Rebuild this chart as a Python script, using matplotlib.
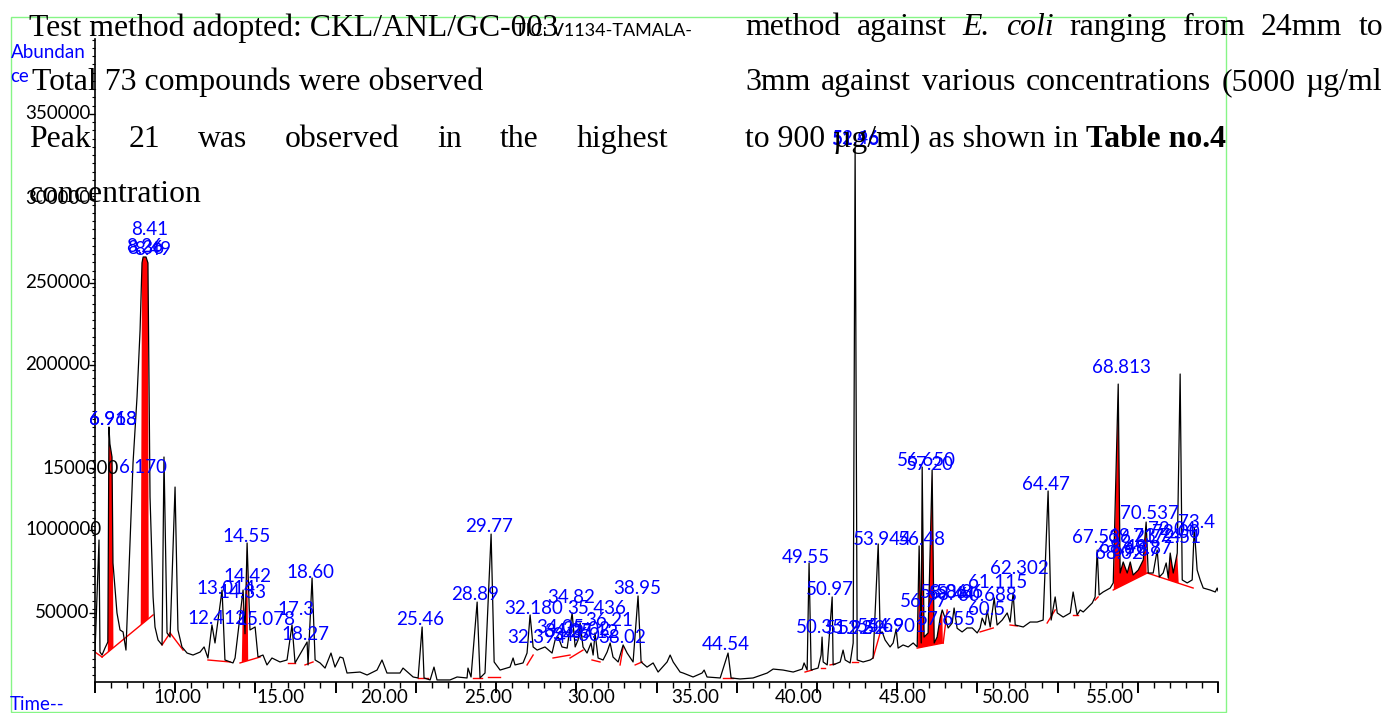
import numpy as np
import matplotlib
matplotlib.use('Agg')
import matplotlib.pyplot as plt
import matplotlib.transforms as mtransforms
from matplotlib.patches import Rectangle
from matplotlib.ticker import MultipleLocator

W, H = 1387, 713

# chromatogram trace (retention time in min, abundance)
rt = [5.00, 5.25, 5.31, 5.44, 5.62, 5.80, 5.87, 5.93, 6.06, 6.12,
      6.37, 6.56, 6.75, 6.93, 7.37, 7.62, 7.81, 7.93, 8.00, 8.18,
      8.30, 8.43, 8.62, 8.74, 8.93, 9.18, 9.30, 9.49, 9.68, 9.99,
      10.17, 10.42, 10.74, 11.11, 11.55, 11.80, 12.04, 12.29, 12.48, 12.92,
      13.10, 13.60, 13.73, 14.23, 14.35, 14.48, 14.66, 14.98, 15.16, 15.47,
      15.72, 16.03, 16.53, 16.97, 17.28, 17.47, 18.22, 18.28, 18.53, 18.72,
      19.03, 19.34, 19.71, 19.96, 20.27, 20.46, 20.71, 21.52, 21.96, 22.58,
      22.89, 23.20, 24.01, 24.20, 24.83, 25.14, 25.39, 25.51, 25.89, 26.13,
      26.32, 27.13, 27.57, 28.19, 28.25, 28.44, 28.82, 29.00, 29.31, 29.69,
      29.88, 30.25, 30.87, 31.06, 31.18, 31.68, 31.93, 32.12, 32.31, 32.56,
      32.87, 33.05, 33.49, 33.68, 33.87, 34.11, 34.43, 34.74, 34.93, 35.11,
      35.24, 35.42, 35.67, 35.92, 36.05, 36.17, 36.36, 36.67, 36.92, 37.11,
      37.29, 37.61, 37.92, 38.17, 38.54, 38.85, 39.04, 39.41, 39.79, 40.10,
      40.66, 40.85, 41.04, 41.47, 41.66, 42.28, 42.84, 42.97, 43.15, 43.97,
      44.46, 44.65, 45.21, 46.02, 46.90, 47.27, 47.89, 48.52, 49.08, 49.20,
      49.39, 49.51, 49.64, 50.07, 50.26, 50.32, 50.39, 50.64, 50.95, 51.01,
      51.45, 51.63, 51.76, 52.07, 52.26, 52.38, 52.51, 52.88, 53.32, 53.50,
      53.82, 53.94, 54.07, 54.25, 54.56, 54.75, 54.94, 55.06, 55.37, 55.69,
      56.00, 56.25, 56.37, 56.50, 56.56, 56.68, 56.93, 57.18, 57.31, 57.49,
      57.68, 57.81, 57.99, 58.18, 58.43, 58.55, 58.74, 59.05, 59.36, 59.68,
      59.99, 60.17, 60.30, 60.49, 60.61, 60.80, 61.05, 61.23, 61.55, 61.86,
      62.04, 62.23, 62.36, 62.86, 63.29, 63.73, 64.10, 64.41, 64.60, 64.85,
      64.98, 65.35, 65.79, 65.97, 66.22, 66.41, 66.60, 67.16, 67.34, 67.47,
      67.59, 67.84, 68.28, 68.47, 68.78, 68.90, 69.09, 69.34, 69.53, 69.71,
      70.03, 70.34, 70.52, 70.65, 70.96, 71.21, 71.34, 71.58, 71.77, 71.90,
      72.02, 72.21, 72.46, 72.64, 72.77, 73.08, 73.39, 73.52, 73.70, 73.89,
      74.08, 74.51, 74.83, 74.95, 75.00]
abundance = [23900, 91800, 23900, 22100, 26300, 30000, 160300, 150000, 142100, 77900,
             47600, 37300, 36100, 25100, 138500, 178500, 219100, 259700, 263300, 263300,
             259700, 117900, 57300, 39100, 31200, 28200, 142100, 35500, 33000, 123900,
             37300, 27000, 23300, 22100, 23900, 27000, 20300, 40300, 29400, 61500,
             19100, 17300, 20300, 61500, 35000, 90000, 37300, 39100, 20900, 22100,
             16100, 20300, 17900, 19100, 40300, 17300, 30000, 16100, 68800, 19100,
             17300, 14200, 23300, 14800, 20900, 20300, 11200, 11800, 10000, 13000,
             19100, 11200, 11200, 14200, 8800, 8200, 39100, 8200, 7000, 14800,
             7000, 7000, 8800, 8200, 14200, 8800, 54200, 8200, 11200, 95400,
             17900, 13000, 14800, 20300, 16100, 17300, 23300, 46400, 27000, 25100,
             26300, 27000, 23300, 31200, 33000, 27000, 26300, 47600, 27000, 31200,
             41500, 27000, 23300, 29400, 22100, 35500, 20300, 19100, 23900, 29400,
             20900, 17900, 28200, 23300, 17900, 57900, 17900, 14800, 17300, 11800,
             17900, 22100, 17900, 11800, 11200, 8800, 11200, 13000, 8800, 8200,
             23300, 8200, 7600, 8200, 11200, 13600, 13000, 11800, 13600, 17300,
             13000, 77900, 13000, 14200, 22100, 33000, 17900, 16100, 57300, 16100,
             17900, 25100, 19100, 17300, 29400, 329400, 19100, 17900, 19100, 20300,
             89400, 35500, 36100, 31200, 27000, 29400, 37900, 26300, 28200, 27000,
             29400, 27000, 88200, 29400, 136000, 33000, 35500, 134200, 29400, 33000,
             44500, 49400, 44500, 38500, 41500, 50600, 38300, 36100, 38500, 38500,
             35500, 38500, 44500, 40300, 49400, 39100, 56700, 40300, 43300, 47600,
             42100, 59700, 40300, 39100, 42100, 42100, 43300, 121500, 43300, 57300,
             47600, 45100, 47600, 60300, 46400, 49400, 48200, 53600, 57300, 85700,
             58500, 60300, 62700, 65800, 186300, 71800, 78500, 71800, 78500, 70600,
             73600, 79700, 102700, 71800, 71800, 85700, 69400, 71800, 77900, 68800,
             83900, 71800, 83900, 192400, 67600, 65800, 67600, 99100, 73600, 67600,
             62700, 61500, 60300, 62700, 61000]

# integration baselines (start time, start abundance, end time, end abundance)
base_t0 = [5.00, 5.44, 9.18, 9.68, 12.04, 14.04, 17.03, 18.09, 25.14, 28.57,
           29.50, 31.93, 33.55, 34.61, 35.98, 37.73, 38.67, 44.15, 49.26, 50.26,
           50.82, 52.19, 53.50, 56.25, 57.87, 60.17, 62.04, 64.35, 65.97, 67.34,
           68.47, 70.59]
base_a0 = [23900, 20900, 28200, 35500, 19100, 17300, 17300, 16100, 8200, 8200,
           8800, 16100, 20300, 20300, 19100, 16100, 16100, 8200, 11800, 14200,
           16100, 17900, 20300, 26300, 29400, 36100, 40300, 41500, 46400, 55400,
           61500, 71800]
base_t1 = [5.44, 8.62, 9.68, 10.49, 13.42, 15.29, 17.47, 18.59, 25.76, 29.13,
           30.25, 32.31, 34.61, 35.42, 36.48, 37.92, 39.10, 44.78, 49.70, 50.51,
           51.13, 52.57, 53.94, 57.87, 58.12, 60.99, 62.48, 64.85, 66.28, 67.53,
           70.59, 73.45]
base_a1 = [20900, 46400, 35500, 25100, 17900, 20900, 17300, 17900, 8200, 8200,
           8800, 22100, 22100, 25100, 17900, 27000, 17900, 8200, 13000, 14200,
           16700, 17900, 35500, 29400, 49400, 38500, 39700, 49400, 46400, 57300,
           71800, 62700]

# integrated (red filled) areas
fill_t0 = [5.80, 7.85, 14.15, 56.30, 68.50, 71.85]
fill_a0 = [23800, 40200, 17600, 26400, 61600, 67700]
fill_t1 = [6.15, 8.35, 14.55, 57.85, 70.55, 72.55]
fill_a1 = [26600, 44200, 18800, 29400, 71600, 65600]

# peak annotations (text, left retention time, abundance)
peak_text = ['6.968', '6.913', '6.170', '8.41', '8.26', '8.36', '8.49',
             '12.412', '13.014', '14.42', '14.33', '14.55', '15.078', '17.3',
             '18.27', '18.60', '25.46', '28.89', '29.77', '32.180', '32.394',
             '34.05', '34.27', '34.60', '35.02', '35.12', '34.82', '35.436',
             '36.21', '38.02', '38.95', '44.54', '49.55', '50.97', '50.35',
             '51.92', '52.52', '52.46', '51.96', '53.944', '56.48', '54.69',
             '54.901', '56.650', '57.20', '56.77', '58.06', '58.44', '58.86',
             '60.688', '61.115', '62.302', '60.5', '57.655', '64.47', '68.813',
             '67.536', '70.537', '73.4', '72.04', '72.00', '71.74', '72.51',
             '69.23', '68.02', '68.48', '69.37', '69.87']
peak_rt = [4.63, 4.63, 6.50, 7.24, 6.93, 7.00, 7.43,
           10.74, 11.30, 12.98, 12.67, 12.92, 13.79, 16.35,
           16.60, 16.91, 23.77, 27.19, 28.07, 30.50, 30.69,
           32.49, 32.99, 33.49, 34.11, 34.61, 33.18, 34.43,
           35.55, 36.36, 37.29, 42.84, 47.83, 49.33, 48.70,
           50.51, 51.32, 50.95, 50.95, 52.26, 55.06, 52.51,
           53.19, 55.00, 55.56, 55.19, 56.43, 56.93, 57.43,
           58.80, 59.43, 60.80, 59.43, 56.25, 62.79, 67.16,
           65.91, 68.90, 72.52, 70.65, 70.90, 69.71, 70.96,
           68.15, 67.34, 67.59, 68.40, 69.15]
peak_abund = [165100, 165100, 136000, 279700, 269400, 268200, 267600,
              44500, 62700, 69400, 59700, 94200, 43900, 49400,
              34800, 72400, 43900, 58500, 99700, 50600, 33000,
              38500, 36100, 33700, 37300, 35500, 56700, 50000,
              43300, 33000, 62700, 28200, 81500, 62100, 38500,
              37900, 37900, 335400, 334200, 92400, 92400, 39100,
              39100, 139700, 137300, 54400, 59700, 58500, 59700,
              57900, 65800, 74800, 49400, 43900, 125700, 196600,
              93600, 107600, 102700, 97900, 96100, 94200, 93600,
              94200, 83900, 87000, 85700, 86400]

ytick_labels = ['350000', '300000', '250000', '200000', '1500000', '1000000', '50000']
ytick_values = [350000, 298500, 247600, 197900, 135400, 97900, 47600]
xtick_labels = ['10.00', '15.00', '20.00', '25.00', '30.00', '35.00',
                '40.00', '45.00', '50.00', '55.00']


def fx(px):
    return px / W


def fy(py):
    return 1 - py / H


plt.rcParams['font.family'] = ['Lato', 'DejaVu Sans']

fig = plt.figure(figsize=(W / 100, H / 100), dpi=100, facecolor='white')
ax = fig.add_axes([fx(95), fy(682), (1218 - 95) / W, (682 - 39) / H])
ax.set_facecolor('none')

ax.plot(rt, abundance, color='black', lw=0.9, zorder=3)
for t0, a0, t1, a1 in zip(base_t0, base_a0, base_t1, base_a1):
    ax.plot([t0, t1], [a0, a1], color='#ff0000', lw=1.0, zorder=2)

rt_arr = np.array(rt)
ab_arr = np.array(abundance)
for t0, a0, t1, a1 in zip(fill_t0, fill_a0, fill_t1, fill_a1):
    m = (rt_arr > t0) & (rt_arr < t1)
    xs = [t0] + list(rt_arr[m]) + [t1]
    ys = [a0] + list(ab_arr[m]) + [a1]
    ax.fill(xs, ys, color='#ff0000', lw=0, zorder=2)

ax.set_xlim(5, 75)
ax.set_ylim(5760, 395400)
for s in ['top', 'right']:
    ax.spines[s].set_visible(False)
for s in ['left', 'bottom']:
    ax.spines[s].set_linewidth(1.2)

ax.xaxis.set_major_locator(MultipleLocator(5))
ax.xaxis.set_minor_locator(MultipleLocator(1))
ax.tick_params(axis='x', which='major', length=8, width=1.4, direction='out', labelbottom=False)
ax.tick_params(axis='x', which='minor', length=4.5, width=1.0, direction='out')
ax.set_yticks(ytick_values)
ax.yaxis.set_minor_locator(MultipleLocator(5000))
ax.tick_params(axis='y', which='major', length=4, width=1.0, direction='out', labelleft=False)
ax.tick_params(axis='y', which='minor', length=2, width=0.8, direction='out')

# tick labels, placed where the reference put them
trans_x = mtransforms.blended_transform_factory(ax.transData, fig.transFigure)
xlabel_first, xlabel_step = 10.11, 6.46
for i, lbl in enumerate(xtick_labels):
    ax.text(xlabel_first + i * xlabel_step, fy(689), lbl, transform=trans_x,
            ha='center', va='top', fontsize=13.5, color='black', clip_on=False)

trans_y = mtransforms.blended_transform_factory(fig.transFigure, ax.transData)
ylabel_left = [25, 25, 25, 25, 42, 25, 35]
for lbl, val, left in zip(ytick_labels, ytick_values, ylabel_left):
    ax.text(fx(left), val, lbl, transform=trans_y, ha='left', va='center',
            fontsize=13.5, color='black', clip_on=False)

for txt, t, a in zip(peak_text, peak_rt, peak_abund):
    ax.text(t, a, txt, ha='left', va='center', fontsize=13.5, color='#0000ff',
            clip_on=False, zorder=4)

fig.text(fx(11), fy(52), 'Abundan', color='#0000ff', fontsize=13.5, va='center', ha='left')
fig.text(fx(10), fy(77), 'ce', color='#0000ff', fontsize=13.5, va='center', ha='left')
fig.text(fx(10), fy(705), 'Time--', color='#0000ff', fontsize=13.5, va='center', ha='left')
fig.text(fx(515), fy(31), 'TIC: V1134-TAMALA-', color='black', fontsize=13, va='center', ha='left')

# document text lying over the chart
renderer = fig.canvas.get_renderer()
SERIF = dict(fontsize=22.9, family='Liberation Serif', color='black', va='baseline', ha='left')


def put_words(words, x0, base, x1=None):
    objs = []
    for w, style in words:
        objs.append(fig.text(0, 0, w, **SERIF, **style))
    widths = [o.get_window_extent(renderer).width for o in objs]
    if x1 is None:
        gap = 7.9
    else:
        gap = (x1 - x0 - sum(widths)) / (len(words) - 1)
    x = x0
    for o, wd in zip(objs, widths):
        o.set_position((fx(x), fy(base)))
        x += wd + gap


fig.text(fx(29), fy(36), 'Test method adopted: CKL/ANL/GC-003', **SERIF)
fig.text(fx(32), fy(90), 'Total 73 compounds were observed', **SERIF)
put_words([(w, {}) for w in 'Peak 21 was observed in the highest'.split()], 29, 147, 668)
fig.text(fx(29), fy(202), 'concentration', **SERIF)

it = {'fontstyle': 'italic'}
put_words([('method', {}), ('against', {}), ('E.', it), ('coli', it), ('ranging', {}),
           ('from', {}), ('24mm', {}), ('to', {})], 745, 35, 1383)
put_words([(w, {}) for w in '3mm against various concentrations (5000 µg/ml'.split()],
          745, 90, 1383)
put_words([('to 900 µg/ml) as shown in', {}), ('Table no.4', {'fontweight': 'bold'})], 745, 147)

frame = Rectangle((fx(10.5), fy(712)), fx(1226) - fx(10.5), fy(17) - fy(712),
                  transform=fig.transFigure, fill=False, edgecolor='#86f586', lw=1.0)
fig.patches.append(frame)

fig.savefig('out.png', dpi=100, facecolor='white')
